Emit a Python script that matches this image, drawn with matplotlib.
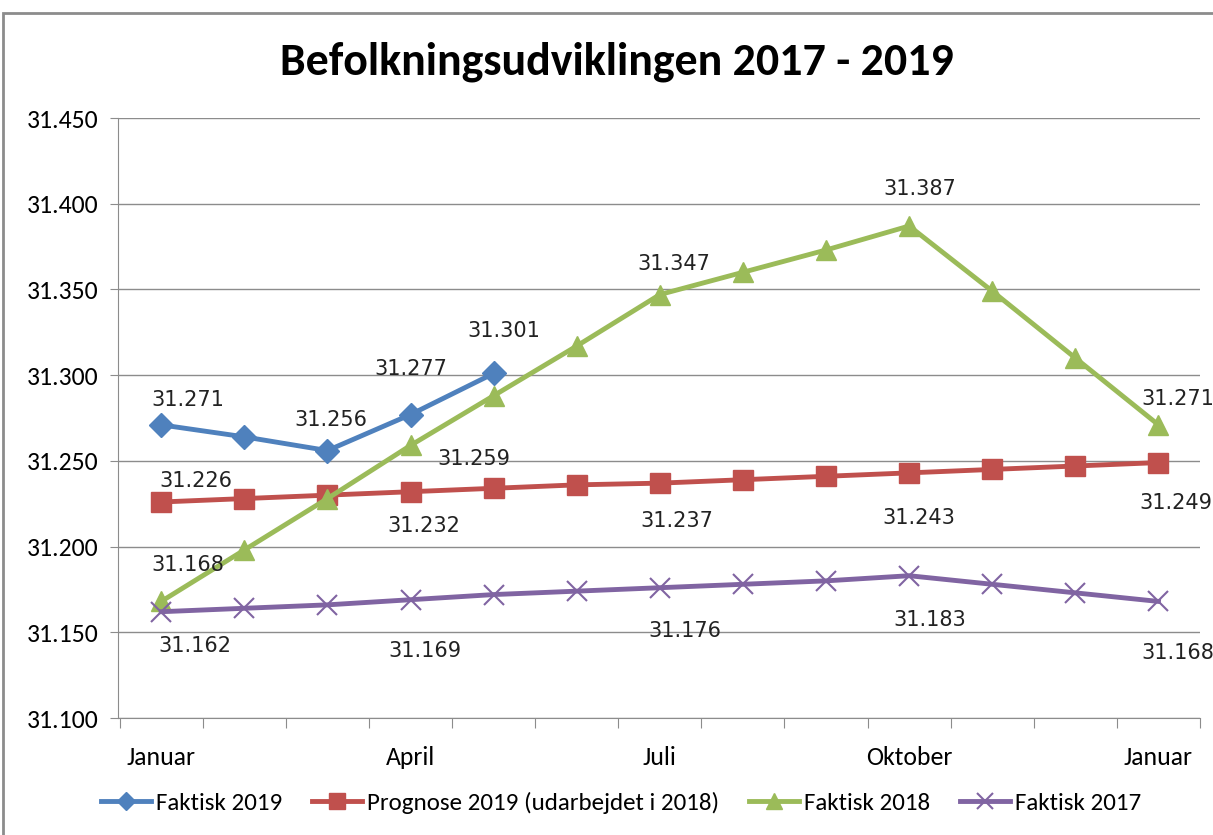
import matplotlib.pyplot as plt
from matplotlib.patches import Rectangle

# data
months = ['Januar', 'Februar', 'Marts', 'April', 'Maj', 'Juni', 'Juli',
          'August', 'September', 'Oktober', 'November', 'December', 'Januar']
faktisk_2019 = [31271, 31264, 31256, 31277, 31301]
prognose_2019 = [31226, 31228, 31230, 31232, 31234, 31236, 31237,
                 31239, 31241, 31243, 31245, 31247, 31249]
faktisk_2018 = [31168, 31198, 31228, 31259, 31288, 31317, 31347,
                31360, 31373, 31387, 31349, 31310, 31271]
faktisk_2017 = [31162, 31164, 31166, 31169, 31172, 31174, 31176,
                31178, 31180, 31183, 31178, 31173, 31168]

series = [
    ('Faktisk 2019', faktisk_2019, '#4F81BD', 'D', 12),
    ('Prognose 2019 (udarbejdet i 2018)', prognose_2019, '#C0504D', 's', 14),
    ('Faktisk 2018', faktisk_2018, '#9BBB59', '^', 15),
    ('Faktisk 2017', faktisk_2017, '#8064A2', 'x', 14),
]

# which points get a label, and the label offset in pixels (dx, dy up)
label_spots = {
    'Faktisk 2019': [(0, 27, 25), (2, 3, 31), (3, 0, 46), (4, 10, 42)],
    'Prognose 2019 (udarbejdet i 2018)': [(0, 35, 21), (3, 13, -34), (6, 17, -38),
                                          (9, 10, -45), (12, 17, -40)],
    'Faktisk 2018': [(0, 27, 36), (3, 63, -14), (6, 14, 31), (9, 11, 37), (12, 19, 26)],
    'Faktisk 2017': [(0, 34, -34), (3, 14, -51), (6, 25, -43), (9, 21, -44), (12, 19, -52)],
}

cal = ['Carlito', 'DejaVu Sans']

fig = plt.figure(figsize=(12.13, 8.35), dpi=100)
ax = fig.add_axes([118 / 1213, 1 - 718 / 835, (1200 - 118) / 1213, 600 / 835])

for name, vals, col, mk, ms in series:
    xs = list(range(len(vals)))
    mew = 1.5 if mk == 'x' else 1
    ax.plot(xs, vals, color=col, lw=3.5, marker=mk, ms=ms, mew=mew, label=name, zorder=3)
    for i, dx, dy in label_spots[name]:
        txt = '{:,}'.format(vals[i]).replace(',', '.')
        ax.annotate(txt, (xs[i], vals[i]), xytext=(dx * 0.72, dy * 0.72),
                    textcoords='offset points', ha='center', va='center',
                    fontsize=15, color='#222222', family='DejaVu Sans', zorder=4)

ax.set_xlim(-0.52, 12.5)
ax.set_ylim(31100, 31450)
ax.set_yticks(range(31100, 31451, 50))
ax.set_yticklabels(['{:,}'.format(v).replace(',', '.') for v in range(31100, 31451, 50)],
                   family=cal, fontsize=18.5)
ax.yaxis.grid(True, color='#8c8c8c', lw=1)
ax.set_axisbelow(True)

# category ticks between months, labels on every third month
ax.set_xticks([i - 0.5 for i in range(14)])
ax.set_xticklabels([])
ax.set_xticks([0, 3, 6, 9, 12], minor=True)
ax.set_xticklabels([months[i] for i in [0, 3, 6, 9, 12]], minor=True,
                   family=cal, fontsize=18.5)
ax.tick_params(axis='x', which='major', length=7, color='#8c8c8c', direction='out')
ax.tick_params(axis='x', which='minor', length=0, pad=20)
ax.tick_params(axis='y', length=6, color='#8c8c8c', pad=8)

for s in ['top', 'right']:
    ax.spines[s].set_visible(False)
ax.spines['left'].set_color('#8c8c8c')
ax.spines['bottom'].set_color('#8c8c8c')

fig.text(617 / 1213, 1 - 62 / 835, 'Befolkningsudviklingen 2017 - 2019', ha='center', va='center',
         fontsize=33, fontweight='bold', family=cal)

fig.legend(loc='center', bbox_to_anchor=(621 / 1213, 1 - 803 / 835), ncol=4, frameon=False,
           prop={'family': cal, 'size': 18}, handlelength=2.0, columnspacing=1.2,
           handletextpad=0.2, markerscale=0.8)

# outer chart border (cropped at right and bottom)
fig.patches.append(Rectangle((3 / 1213, -0.1), 1.2, 1.1 - 13 / 835, transform=fig.transFigure,
                             fill=False, ec='#8c8c8c', lw=2))

fig.savefig('out.png', dpi=100, facecolor='white')
